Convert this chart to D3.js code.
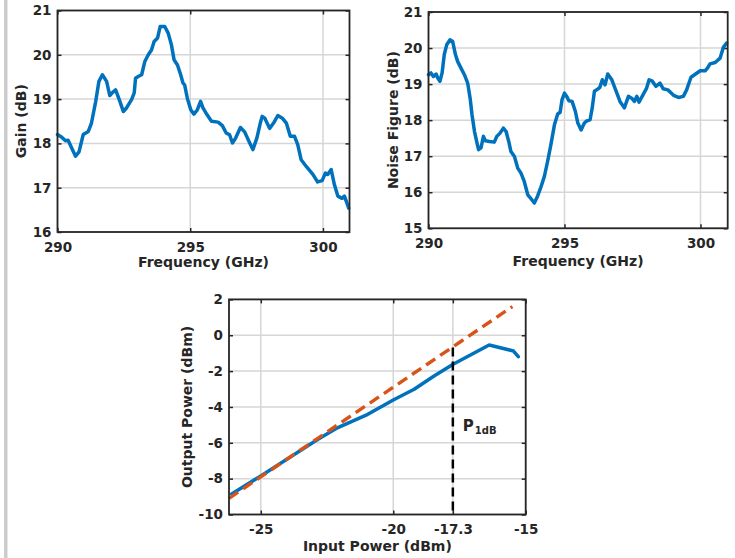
<!DOCTYPE html>
<html>
<head>
<meta charset="utf-8">
<script src="https://cdn.jsdelivr.net/npm/d3@7/dist/d3.min.js"></script>
<style>
  html, body { margin: 0; padding: 0; background: #ffffff; }
  svg { display: block; }
  text { font-family: "DejaVu Sans", sans-serif; font-weight: bold; fill: #262626; }
</style>
</head>
<body>
<svg id="chart" width="735" height="558"></svg>
<script>
// ---------------- DATA ----------------
const gainFreq = [290.0, 290.16, 290.3, 290.4, 290.53, 290.68, 290.81, 290.97, 291.16, 291.28, 291.44, 291.56, 291.69, 291.85, 291.97, 292.06, 292.19, 292.35, 292.48, 292.6, 292.79, 292.89, 292.94, 293.04, 293.17, 293.29, 293.42, 293.54, 293.64, 293.77, 293.87, 294.04, 294.17, 294.29, 294.39, 294.52, 294.64, 294.73, 294.79, 294.89, 295.02, 295.14, 295.27, 295.39, 295.48, 295.63, 295.8, 296.05, 296.21, 296.36, 296.48, 296.59, 296.71, 296.89, 297.05, 297.21, 297.36, 297.51, 297.64, 297.71, 297.81, 297.99, 298.14, 298.3, 298.47, 298.62, 298.77, 298.93, 299.05, 299.18, 299.37, 299.62, 299.8, 299.97, 300.09, 300.18, 300.31, 300.43, 300.56, 300.72, 300.81, 300.97];
const gainValues = [18.2, 18.14, 18.06, 18.07, 17.9, 17.71, 17.81, 18.2, 18.27, 18.46, 18.95, 19.4, 19.55, 19.4, 19.08, 19.14, 19.21, 18.95, 18.72, 18.8, 18.99, 19.14, 19.47, 19.51, 19.55, 19.85, 20.0, 20.11, 20.3, 20.38, 20.64, 20.64, 20.49, 20.23, 19.89, 19.77, 19.55, 19.36, 19.32, 19.02, 18.76, 18.66, 18.76, 18.95, 18.8, 18.65, 18.5, 18.48, 18.4, 18.23, 18.2, 18.01, 18.12, 18.36, 18.26, 18.05, 17.86, 18.12, 18.46, 18.61, 18.57, 18.34, 18.46, 18.63, 18.57, 18.46, 18.16, 18.16, 17.97, 17.63, 17.48, 17.3, 17.13, 17.16, 17.33, 17.3, 17.41, 17.07, 16.81, 16.76, 16.81, 16.54];

const nfFreq = [290.0, 290.09, 290.18, 290.28, 290.34, 290.42, 290.5, 290.58, 290.67, 290.79, 290.89, 290.99, 291.07, 291.19, 291.32, 291.44, 291.53, 291.6, 291.69, 291.77, 291.84, 291.93, 292.02, 292.09, 292.24, 292.42, 292.51, 292.63, 292.75, 292.85, 292.95, 293.03, 293.16, 293.28, 293.4, 293.52, 293.65, 293.77, 293.89, 294.01, 294.14, 294.26, 294.38, 294.5, 294.63, 294.75, 294.84, 294.91, 295.0, 295.08, 295.16, 295.28, 295.4, 295.49, 295.61, 295.73, 295.82, 295.94, 296.02, 296.1, 296.22, 296.3, 296.39, 296.49, 296.59, 296.74, 296.88, 297.04, 297.2, 297.35, 297.47, 297.57, 297.66, 297.74, 297.9, 298.02, 298.11, 298.23, 298.36, 298.51, 298.63, 298.8, 299.01, 299.19, 299.37, 299.49, 299.65, 299.82, 299.99, 300.17, 300.27, 300.35, 300.54, 300.72, 300.84, 300.96];
const nfValues = [19.26, 19.31, 19.21, 19.28, 19.17, 19.08, 19.31, 19.82, 20.09, 20.23, 20.18, 19.82, 19.63, 19.45, 19.26, 19.03, 18.61, 18.15, 17.69, 17.41, 17.18, 17.23, 17.55, 17.43, 17.41, 17.39, 17.55, 17.64, 17.78, 17.69, 17.41, 17.13, 16.99, 16.67, 16.53, 16.3, 15.93, 15.82, 15.7, 15.89, 16.16, 16.44, 16.86, 17.32, 17.87, 18.17, 18.22, 18.57, 18.75, 18.66, 18.54, 18.52, 18.24, 17.92, 17.73, 17.92, 17.98, 18.01, 18.34, 18.8, 18.86, 18.91, 19.12, 18.98, 19.28, 19.12, 18.84, 18.52, 18.34, 18.66, 18.61, 18.52, 18.66, 18.5, 18.72, 18.89, 19.12, 19.08, 18.94, 19.03, 18.87, 18.84, 18.69, 18.63, 18.66, 18.84, 19.19, 19.28, 19.37, 19.37, 19.46, 19.56, 19.6, 19.72, 20.02, 20.14];

const pinValues  = [-26.1, -25.0, -22.84, -22.09, -20.96, -20.0, -19.21, -18.46, -17.74, -16.38, -15.46, -15.28];
const poutValues = [-8.85, -7.85, -5.8, -5.15, -4.41, -3.61, -3.01, -2.27, -1.62, -0.54, -0.88, -1.19];

const linearPin  = [-26.2, -15.5];
const linearPout = [-9.1, 1.6];

const p1dbPin = -17.75;          // position of the dashed P1dB marker
const p1dbPoutTop = -0.69;       // top of the marker (meets the linear line)

const freqTicks = [290, 295, 300];
const gainTicks = [16, 17, 18, 19, 20, 21];
const nfTicks = [15, 16, 17, 18, 19, 20, 21];
const pinTicks = [-25, -20, -17.75, -15];
const pinTickLabels = ["-25", "-20", "-17.3", "-15"];
const poutTicks = [-10, -8, -6, -4, -2, 0, 2];

// ---------------- DRAW ----------------
const svg = d3.select("#chart");
const BLUE = "#0072BD", RED = "#D95319", AX = "#262626", GRID = "#d6d6d6";

// gray side bar
svg.append("rect").attr("x", 4).attr("y", 0).attr("width", 3.5).attr("height", 558).attr("fill", "#cccccc");

function panel(o) {
  const g = svg.append("g");
  const x = d3.scaleLinear().domain(o.xDomain).range(o.xRange);
  const y = d3.scaleLinear().domain(o.yDomain).range(o.yRange);
  const [x0, x1] = o.xRange, [y0, y1] = o.yRange; // y0 bottom, y1 top

  // grid
  g.append("g").selectAll("line").data(o.xTicks).join("line")
    .attr("x1", d => x(d)).attr("x2", d => x(d)).attr("y1", y0).attr("y2", y1)
    .attr("stroke", GRID).attr("stroke-width", 1.5);
  g.append("g").selectAll("line").data(o.yTicks).join("line")
    .attr("x1", x0).attr("x2", x1).attr("y1", d => y(d)).attr("y2", d => y(d))
    .attr("stroke", GRID).attr("stroke-width", 1.5);

  // axes (inward ticks, all four sides)
  const fmtX = o.xFormat || (d => d);
  const bottom = g.append("g").attr("transform", `translate(0,${y0})`)
    .call(d3.axisBottom(x).tickValues(o.xTicks).tickSizeInner(-4).tickSizeOuter(0).tickPadding(9).tickFormat(fmtX));
  const top = g.append("g").attr("transform", `translate(0,${y1})`)
    .call(d3.axisTop(x).tickValues(o.xTicks).tickSizeInner(-4).tickSizeOuter(0).tickFormat(""));
  const left = g.append("g").attr("transform", `translate(${x0},0)`)
    .call(d3.axisLeft(y).tickValues(o.yTicks).tickSizeInner(-4).tickSizeOuter(0).tickPadding(10).tickFormat(d => d));
  const right = g.append("g").attr("transform", `translate(${x1},0)`)
    .call(d3.axisRight(y).tickValues(o.yTicks).tickSizeInner(-4).tickSizeOuter(0).tickFormat(""));
  [bottom, top, left, right].forEach(a => {
    a.select(".domain").remove();
    a.selectAll(".tick line").attr("stroke", AX).attr("stroke-width", 1.5);
    a.selectAll("text").attr("font-family", "DejaVu Sans").attr("font-weight", "bold")
      .attr("font-size", 13.5).attr("fill", AX);
  });
  bottom.selectAll("text").attr("dy", null).attr("y", 19.8);
  left.selectAll("text").attr("x", -6);

  // data
  o.draw(g, x, y);

  // box
  g.append("rect").attr("x", x0).attr("y", y1).attr("width", x1 - x0).attr("height", y0 - y1)
    .attr("fill", "none").attr("stroke", AX).attr("stroke-width", 1.8);

  // labels
  g.append("text").attr("x", (x0 + x1) / 2).attr("y", o.xLabelY).attr("text-anchor", "middle")
    .attr("font-size", 14).text(o.xLabel);
  g.append("text").attr("transform", `translate(${o.yLabelX},${(y0 + y1) / 2}) rotate(-90)`)
    .attr("dy", "0.36em").attr("text-anchor", "middle").attr("font-size", 14).text(o.yLabel);
}

function blueLine(g, x, y, xs, ys) {
  const pts = xs.map((d, i) => [d, ys[i]]);
  g.append("path").datum(pts)
    .attr("d", d3.line().x(d => x(d[0])).y(d => y(d[1])))
    .attr("fill", "none").attr("stroke", BLUE).attr("stroke-width", 3.5)
    .attr("stroke-linejoin", "round").attr("stroke-linecap", "round");
}

panel({
  xDomain: [290, 301], xRange: [57.5, 349.5],
  yDomain: [16, 21], yRange: [232, 10.5],
  xTicks: freqTicks, yTicks: gainTicks,
  xLabel: "Frequency (GHz)", yLabel: "Gain (dB)",
  xLabelY: 267, yLabelX: 20.7,
  draw: (g, x, y) => blueLine(g, x, y, gainFreq, gainValues)
});

panel({
  xDomain: [290, 301], xRange: [428.5, 727.7],
  yDomain: [15, 21], yRange: [228.3, 12],
  xTicks: freqTicks, yTicks: nfTicks,
  xLabel: "Frequency (GHz)", yLabel: "Noise Figure (dB)",
  xLabelY: 265.5, yLabelX: 392.7,
  draw: (g, x, y) => blueLine(g, x, y, nfFreq, nfValues)
});

panel({
  xDomain: [-26.2, -15], xRange: [229, 525.7],
  yDomain: [-10, 2], yRange: [514.5, 299.4],
  xTicks: pinTicks, yTicks: poutTicks,
  xFormat: (d, i) => pinTickLabels[pinTicks.indexOf(d)],
  xLabel: "Input Power (dBm)", yLabel: "Output Power (dBm)",
  xLabelY: 551, yLabelX: 187.3,
  draw: (g, x, y) => {
    blueLine(g, x, y, pinValues, poutValues);
    const lin = linearPin.map((d, i) => [d, linearPout[i]]);
    g.append("path").datum(lin)
      .attr("d", d3.line().x(d => x(d[0])).y(d => y(d[1])))
      .attr("fill", "none").attr("stroke", RED).attr("stroke-width", 3.4)
      .attr("stroke-dasharray", "11,6");
    g.append("line")
      .attr("x1", x(p1dbPin)).attr("x2", x(p1dbPin))
      .attr("y1", y(p1dbPoutTop)).attr("y2", y(-10))
      .attr("stroke", "#000").attr("stroke-width", 2.5).attr("stroke-dasharray", "9,5");
    const t = g.append("text").attr("x", x(p1dbPin) + 10).attr("y", 431)
      .attr("font-family", "Liberation Sans, Arial, sans-serif").attr("font-weight", "bold")
      .attr("fill", "#000").attr("font-size", 15);
    t.append("tspan").text("P");
    t.append("tspan").attr("font-size", 10).attr("dy", 3).attr("dx", 1).text("1dB");
  }
});
</script>
</body>
</html>
